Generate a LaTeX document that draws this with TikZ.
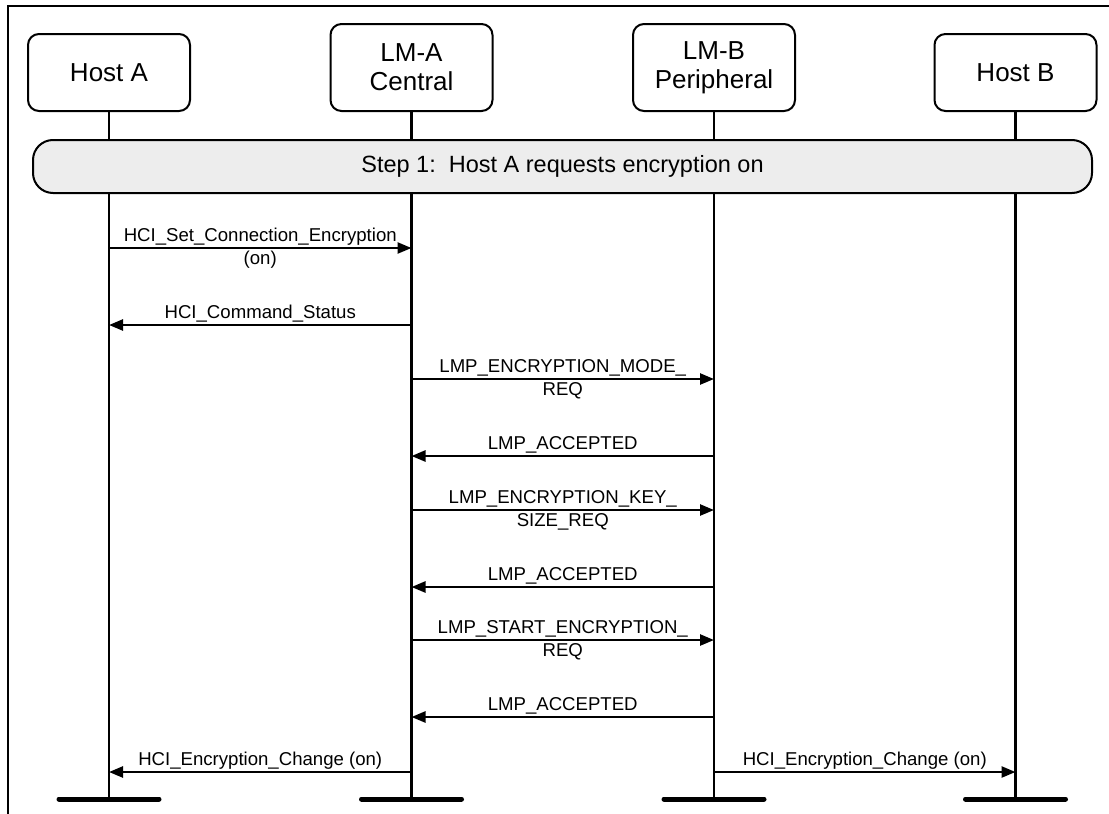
\documentclass[tikz,border=0pt]{standalone}
\usepackage{fontspec}
\setmainfont{Liberation Sans}
\usetikzlibrary{arrows.meta}
\tikzset{
  actor/.style={draw, line width=2pt, rounded corners=11pt, minimum width=162pt, align=center, font=\fontsize{26}{29}\selectfont},
  life/.style={line width=2.1pt},
  msg/.style={line width=2.5pt, -{Triangle[length=14pt,width=11pt]}},
  lbl/.style={anchor=base, inner sep=0pt, font=\fontsize{18.6}{22}\selectfont},
  endbar/.style={line width=5pt, line cap=round},
  stepbar/.style={draw, line width=2pt, rounded corners=20pt, fill=black!7, minimum width=1059pt, minimum height=53pt, font=\fontsize{23.5}{28}\selectfont},
  frameline/.style={line width=2.5pt}
}
\begin{document}
\begin{tikzpicture}[x=1pt,y=-1pt]
\useasboundingbox (0,0) rectangle (1109,814);
\draw[frameline] (8,814) -- (8,6) -- (1109,6);
% actors
\node[actor, minimum height=77pt] (hostA) at (109,72.5) {Host A};
\node[actor, minimum height=87pt] (lmA) at (411.5,67.5) {LM-A\\Central};
\node[actor, minimum height=87pt] (lmB) at (714,67.5) {LM-B\\Peripheral};
\node[actor, minimum height=77pt] (hostB) at (1015.5,72.5) {Host B};
% lifeline ends
\coordinate (endA) at (109,799);
\coordinate (endLA) at (411.5,799);
\coordinate (endLB) at (714,799);
\coordinate (endB) at (1015.5,799);
\draw[life] (hostA.south) -- (endA);
\draw[life] (lmA.south) -- (endLA);
\draw[life] (lmB.south) -- (endLB);
\draw[life] (hostB.south) -- (endB);
\draw[endbar] ([xshift=-50pt]endA) -- ([xshift=50pt]endA);
\draw[endbar] ([xshift=-50pt]endLA) -- ([xshift=50pt]endLA);
\draw[endbar] ([xshift=-50pt]endLB) -- ([xshift=50pt]endLB);
\draw[endbar] ([xshift=-50pt]endB) -- ([xshift=50pt]endB);
% step bar
\node[stepbar] (step) at (562.5,166.5) {Step 1:\ \ Host A requests encryption on};
% messages
\draw[msg] (hostA |- 0,248) -- (lmA |- 0,248)
  node[lbl, midway, yshift=7pt] {HCI\_Set\_Connection\_Encryption}
  node[lbl, midway, yshift=-16pt] {(on)};
\draw[msg] (lmA |- 0,325) -- (hostA |- 0,325)
  node[lbl, midway, yshift=7pt] {HCI\_Command\_Status};
\draw[msg] (lmA |- 0,379) -- (lmB |- 0,379)
  node[lbl, midway, yshift=7pt] {LMP\_ENCRYPTION\_MODE\_}
  node[lbl, midway, yshift=-16pt] {REQ};
\draw[msg] (lmB |- 0,456) -- (lmA |- 0,456)
  node[lbl, midway, yshift=7pt] {LMP\_ACCEPTED};
\draw[msg] (lmA |- 0,510) -- (lmB |- 0,510)
  node[lbl, midway, yshift=7pt] {LMP\_ENCRYPTION\_KEY\_}
  node[lbl, midway, yshift=-16pt] {SIZE\_REQ};
\draw[msg] (lmB |- 0,587) -- (lmA |- 0,587)
  node[lbl, midway, yshift=7pt] {LMP\_ACCEPTED};
\draw[msg] (lmA |- 0,640) -- (lmB |- 0,640)
  node[lbl, midway, yshift=7pt] {LMP\_START\_ENCRYPTION\_}
  node[lbl, midway, yshift=-16pt] {REQ};
\draw[msg] (lmB |- 0,717) -- (lmA |- 0,717)
  node[lbl, midway, yshift=7pt] {LMP\_ACCEPTED};
\draw[msg] (lmA |- 0,772) -- (hostA |- 0,772)
  node[lbl, midway, yshift=7pt] {HCI\_Encryption\_Change (on)};
\draw[msg] (lmB |- 0,772) -- (hostB |- 0,772)
  node[lbl, midway, yshift=7pt] {HCI\_Encryption\_Change (on)};
\end{tikzpicture}
\end{document}
